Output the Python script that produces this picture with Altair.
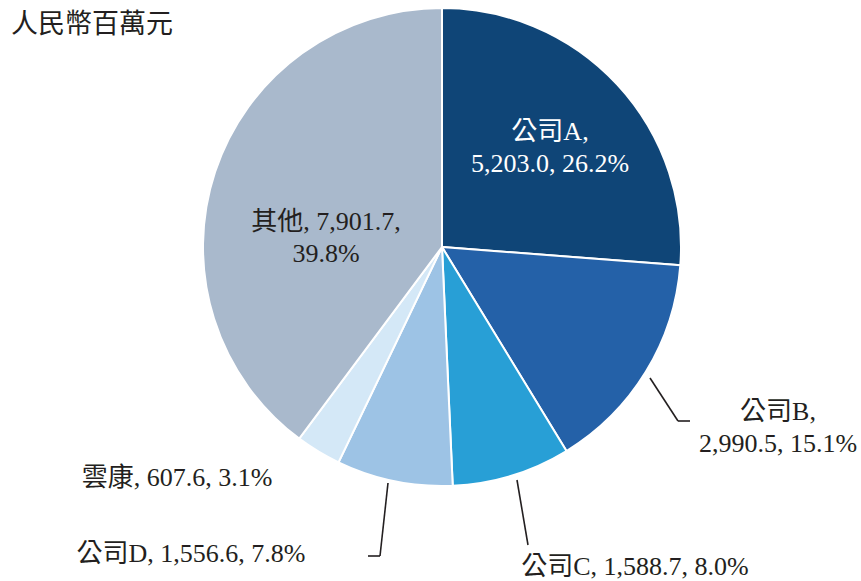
import altair as alt
import pandas as pd

names = ["公司A", "公司B", "公司C", "公司D", "雲康", "其他"]
values = [5203.0, 2990.5, 1588.7, 1556.6, 607.6, 7901.7]
percents = [26.2, 15.1, 8.0, 7.8, 3.1, 39.8]
colors = ["#0f4577", "#2461a8", "#289fd6", "#9dc3e5", "#d4e8f7", "#a9b9cc"]
unit_title = "人民幣百萬元"

df = pd.DataFrame({"name": names, "value": values, "pct": percents,
                   "idx": list(range(len(names)))})

FONT = "Liberation Serif, Times New Roman, Noto Sans CJK TC"
TXT = "#231f20"
CX, CY, R = 442, 247, 239

pie = alt.Chart(df).mark_arc(radius=R, stroke="white", strokeWidth=2).encode(
    theta=alt.Theta("value:Q", stack=True),
    order=alt.Order("idx:Q"),
    color=alt.Color("name:N", scale=alt.Scale(domain=names, range=colors), legend=None),
    x=alt.value(CX), y=alt.value(CY),
)

def fmt(v):
    return f"{v:,.1f}"

def lbl(i, split):
    n, v, p = names[i], fmt(values[i]), f"{percents[i]:.1f}%"
    if split == 1:
        return f"{n},\n{v}, {p}"
    if split == 2:
        return f"{n}, {v},\n{p}"
    return f"{n}, {v}, {p}"

label_specs = [
    (0, 1, 550, 140, "white"),
    (1, 1, 778, 420, TXT),
    (2, 0, 635, 575, TXT),
    (3, 0, 191, 562, TXT),
    (4, 0, 177, 486, TXT),
    (5, 2, 326, 230, TXT),
]

layers = [pie]
for i, split, lx, ly, col in label_specs:
    t = alt.Chart(pd.DataFrame({"t": [lbl(i, split)]})).mark_text(
        font=FONT, fontSize=26, align="center", baseline="alphabetic",
        lineBreak="\n", lineHeight=32, color=col,
    ).encode(text="t:N", x=alt.value(lx), y=alt.value(ly))
    layers.append(t)

title = alt.Chart(pd.DataFrame({"t": [unit_title]})).mark_text(
    font=FONT, fontSize=27, align="left", baseline="alphabetic", color=TXT,
).encode(text="t:N", x=alt.value(11), y=alt.value(33))
layers.append(title)

segments = [
    (650, 378, 678, 421), (678, 421, 690, 421),
    (517, 480, 528, 545),
    (388, 483, 380, 556), (380, 556, 368, 556),
]
for x1, y1, x2, y2 in segments:
    r = alt.Chart(pd.DataFrame({"a": [0]})).mark_rule(color=TXT, strokeWidth=1.6).encode(
        x=alt.value(x1), y=alt.value(y1), x2=alt.value(x2), y2=alt.value(y2))
    layers.append(r)

chart = alt.layer(*layers).properties(
    width=861, height=581, autosize=alt.AutoSizeParams(type="none"), padding=0,
    background="white",
).configure_view(stroke=None)

chart.save("out.html", embed_options={"renderer": "svg", "actions": False})
